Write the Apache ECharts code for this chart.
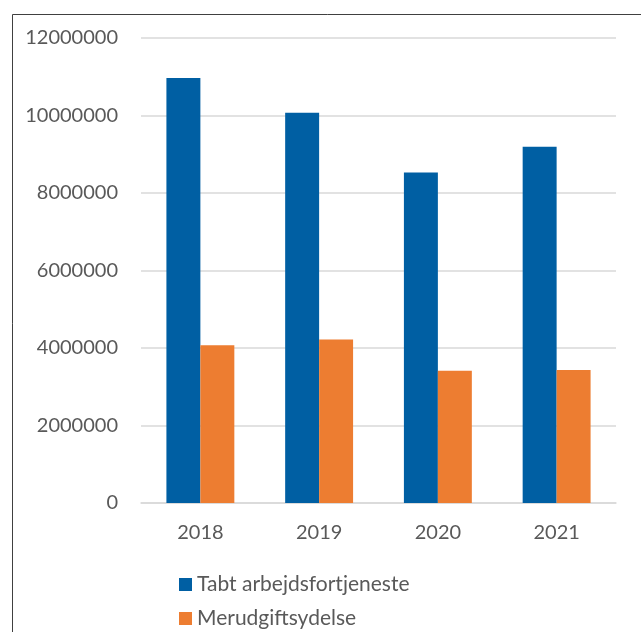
<!DOCTYPE html>
<html>
<head>
<meta charset="utf-8">
<script src="https://cdn.jsdelivr.net/npm/echarts@6/dist/echarts.min.js"></script>
<style>html,body{margin:0;padding:0;background:#fff;}#c{width:641px;height:632px;}</style>
</head>
<body>
<div id="c"></div>
<script>
const categories = ['2018', '2019', '2020', '2021'];
const seriesNames = ['Tabt arbejdsfortjeneste', 'Merudgiftsydelse'];
const tabtValues = [10970000, 10070000, 8530000, 9195000];
const merudValues = [4070000, 4220000, 3410000, 3430000];
const yTicks = { min: 0, max: 12000000, interval: 2000000 };

const chart = echarts.init(document.getElementById('c'));
const font = 'Lato, "Open Sans", sans-serif';
const legendBase = {
  orient: 'vertical', left: 174,
  itemWidth: 13, itemHeight: 13, itemGap: 10, icon: 'rect',
  textStyle: { fontFamily: font, fontSize: 21, color: '#595959' }
};
chart.setOption({
  animation: false,
  backgroundColor: '#fff',
  textStyle: { fontFamily: font },
  graphic: [{
    type: 'rect', left: 10, top: 12, z: 100,
    shape: { x: 0, y: 0, width: 650, height: 650 },
    style: { fill: 'none', stroke: '#404040', lineWidth: 1 }
  }],
  grid: { left: 141, right: 25, top: 38, bottom: 129, containLabel: false },
  legend: [
    Object.assign({}, legendBase, { top: 569, data: [seriesNames[0]] }),
    Object.assign({}, legendBase, { top: 603, data: [seriesNames[1]] })
  ],
  xAxis: {
    type: 'category', data: categories,
    axisLine: { show: true, lineStyle: { color: '#d9d9d9', width: 1.5 } },
    axisTick: { show: false },
    axisLabel: { fontFamily: font, fontSize: 20, color: '#595959', margin: 20 }
  },
  yAxis: {
    type: 'value', min: yTicks.min, max: yTicks.max, interval: yTicks.interval,
    axisLine: { show: false }, axisTick: { show: false },
    splitLine: { lineStyle: { color: '#d9d9d9', width: 1.5 } },
    axisLabel: { fontFamily: font, fontSize: 20, color: '#595959', margin: 23,
      formatter: function (v) { return String(v); } }
  },
  series: [
    { name: seriesNames[0], type: 'bar', data: tabtValues, barWidth: '28.6%', barGap: '0%',
      itemStyle: { color: '#005FA3' } },
    { name: seriesNames[1], type: 'bar', data: merudValues, barWidth: '28.6%', barGap: '0%',
      itemStyle: { color: '#ED7D31' } }
  ]
});
</script>
</body>
</html>
